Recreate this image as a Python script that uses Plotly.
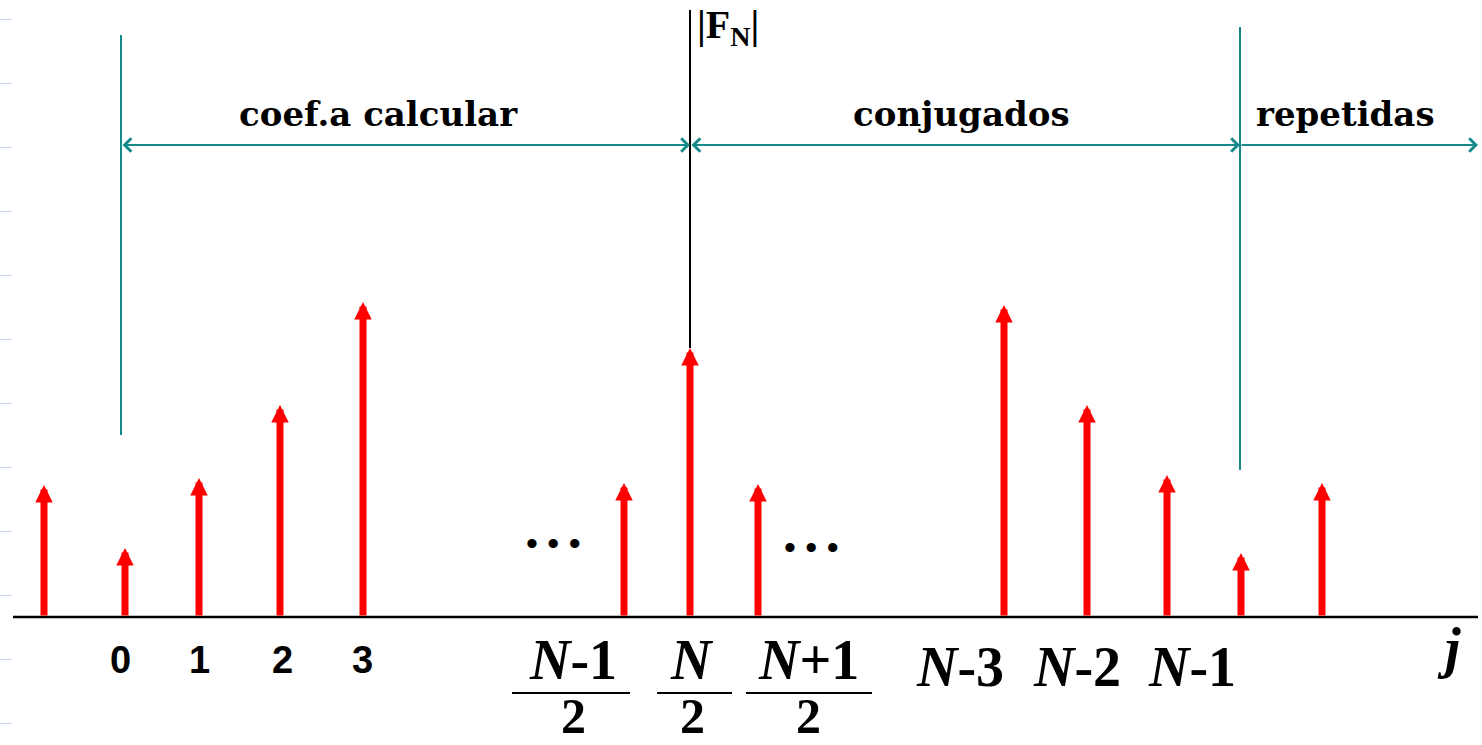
import plotly.graph_objects as go

# ---- data (x in pixel-like units, amplitude measured from the baseline) ----
arrow_x = [44, 125, 199, 280, 363, 624, 690, 758, 1004, 1087, 1167, 1241, 1322]
arrow_amp = [132, 69, 139, 212, 315, 134, 269, 133, 312, 212, 142, 64, 134]

num_labels = ["0", "1", "2", "3"]
num_label_x = [120, 199, 282, 362]

n_labels = ["<b><i>N</i>-3</b>", "<b><i>N</i>-2</b>", "<b><i>N</i>-1</b>"]
n_label_x = [960, 1077, 1192]

frac_num = ["<b><i>N</i>-1</b>", "<b><i>N</i></b>", "<b><i>N</i>+1</b>"]
frac_den = ["<b>2</b>", "<b>2</b>", "<b>2</b>"]
frac_x = [573, 692, 808]
frac_bar = [(512, 630), (657, 732), (746, 872)]

region_labels = ["coef.a calcular", "conjugados", "repetidas"]
region_x = [378, 961, 1345]
region_bounds = [121, 690, 1240, 1478]

teal = "#168a8a"
base_y = 0
arrow_line_y = 472

fig = go.Figure()
fig.add_trace(go.Scatter(x=arrow_x, y=arrow_amp, mode="markers",
                         marker=dict(size=1, color="rgba(0,0,0,0)"),
                         hoverinfo="x+y", showlegend=False))

shapes = []
annotations = []

# baseline
shapes.append(dict(type="line", x0=13, x1=1478, y0=base_y, y1=base_y,
                   line=dict(color="black", width=2.5)))
# black vertical |F_N| axis
shapes.append(dict(type="line", x0=690, x1=690, y0=607, y1=arrow_amp[6],
                   line=dict(color="black", width=2)))
# teal vertical lines
shapes.append(dict(type="line", x0=121, x1=121, y0=582, y1=182,
                   line=dict(color=teal, width=2)))
shapes.append(dict(type="line", x0=1240, x1=1240, y0=590, y1=147,
                   line=dict(color=teal, width=2)))

# red arrows
for xp, a in zip(arrow_x, arrow_amp):
    annotations.append(dict(x=xp, y=a, ax=xp, ay=base_y, xref="x", yref="y",
                            axref="x", ayref="y", text="", showarrow=True,
                            arrowhead=2, arrowsize=0.5, arrowwidth=7,
                            arrowcolor="#ff0000", standoff=0, startstandoff=0))

# teal region arrows
for i in range(3):
    x0, x1 = region_bounds[i], region_bounds[i + 1]
    annotations.append(dict(x=x1, y=arrow_line_y, ax=x0, ay=arrow_line_y,
                            xref="x", yref="y", axref="x", ayref="y", text="",
                            showarrow=True, arrowhead=4,
                            startarrowhead=4,
                            arrowside="end" if i == 2 else "end+start",
                            arrowsize=1.3, startarrowsize=1.3, arrowwidth=2,
                            arrowcolor=teal, standoff=0, startstandoff=0))
    annotations.append(dict(x=region_x[i], y=arrow_line_y + 31,
                            text="<b>%s</b>" % region_labels[i], showarrow=False,
                            font=dict(family="DejaVu Serif", size=34, color="black"),
                            xanchor="center", yanchor="middle"))

# |F_N| label
annotations.append(dict(x=695, y=590, text="<b>|F<sub>N</sub>|</b>", showarrow=False,
                        xanchor="left", yanchor="middle",
                        font=dict(family="Liberation Serif", size=40, color="black")))

# numeric tick labels
for t, xp in zip(num_labels, num_label_x):
    annotations.append(dict(x=xp, y=-43, text="<b>%s</b>" % t, showarrow=False,
                            xanchor="center", yanchor="middle",
                            font=dict(family="Liberation Sans", size=38, color="black")))

# N-k labels
for t, xp in zip(n_labels, n_label_x):
    annotations.append(dict(x=xp, y=-50, text=t, showarrow=False,
                            xanchor="center", yanchor="middle",
                            font=dict(family="Liberation Serif", size=56, color="black")))

# fractions
for num, den, xp, (b0, b1) in zip(frac_num, frac_den, frac_x, frac_bar):
    annotations.append(dict(x=xp, y=-43, text=num, showarrow=False,
                            xanchor="center", yanchor="middle",
                            font=dict(family="Liberation Serif", size=56, color="black")))
    annotations.append(dict(x=xp, y=-128, text=den, showarrow=False,
                            xanchor="center", yanchor="bottom", borderpad=0,
                            font=dict(family="Liberation Serif", size=50, color="black")))
    shapes.append(dict(type="line", x0=b0, x1=b1, y0=-76, y1=-76,
                       line=dict(color="black", width=2)))

# ellipses
for xp, yp in [(553, 74), (811, 70)]:
    annotations.append(dict(x=xp, y=yp, text="• • •", showarrow=False,
                            xanchor="center", yanchor="middle",
                            font=dict(family="Liberation Sans", size=34, color="black")))

# j axis label
annotations.append(dict(x=1449, y=-31, text="<b><i>j</i></b>", showarrow=False,
                        xanchor="center", yanchor="middle",
                        font=dict(family="Liberation Serif", size=56, color="black")))

fig.update_layout(
    width=1482, height=745,
    margin=dict(l=0, r=0, t=0, b=0),
    paper_bgcolor="white", plot_bgcolor="white",
    shapes=shapes, annotations=annotations,
    showlegend=False,
    xaxis=dict(range=[0, 1482], visible=False, fixedrange=True),
    yaxis=dict(range=[-128, 617], showgrid=False, zeroline=False,
               showticklabels=False, showline=False,
               ticks="inside", ticklen=12, tickcolor="#c9d6f7", tickwidth=1,
               tick0=22, dtick=64, fixedrange=True),
)

fig.write_html("out.html", config={"displayModeBar": False},
               post_script="document.body.style.margin='0';document.body.style.overflow='hidden';")
